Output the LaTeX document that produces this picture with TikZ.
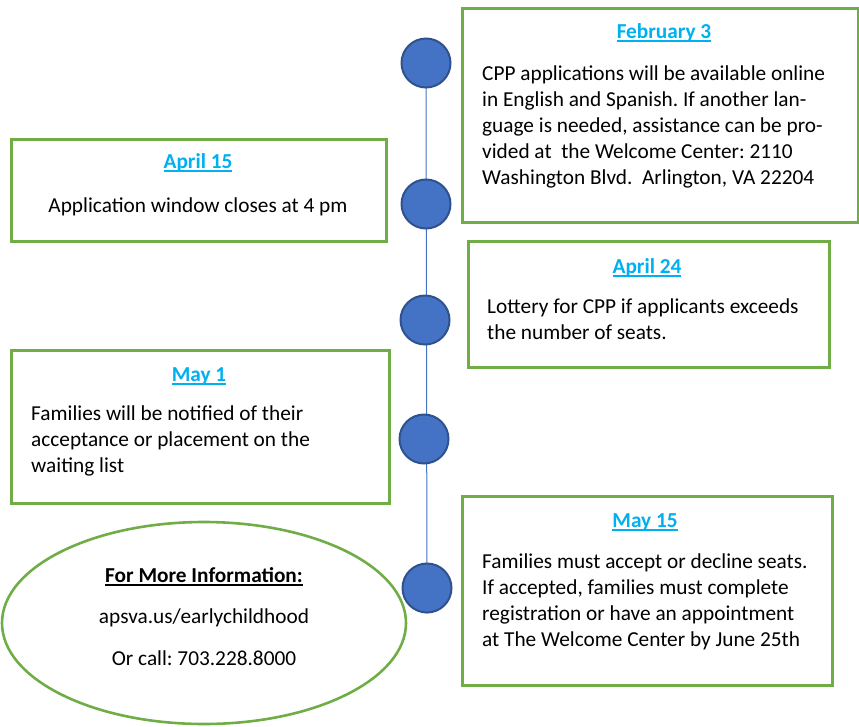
\documentclass[tikz,border=0pt]{standalone}
\usepackage{fontspec}
\setmainfont{Carlito}
\usetikzlibrary{shapes.geometric,backgrounds}
\definecolor{boxgreen}{HTML}{70AD47}
\definecolor{titleblue}{HTML}{00B0F0}
\definecolor{dotfill}{HTML}{4472C4}
\definecolor{dotedge}{HTML}{2F528F}
\tikzset{
  infobox/.style={draw=boxgreen, line width=2.6pt, fill=white},
  dot/.style={circle, draw=dotedge, line width=2pt, fill=dotfill, minimum size=49pt, inner sep=0pt},
  title/.style={font=\fontsize{21.3}{26}\selectfont\bfseries\frenchspacing, text=titleblue, inner sep=0pt, anchor=base},
  body/.style={font=\fontsize{21.3}{26}\selectfont\frenchspacing, align=left, inner sep=0pt, anchor=base west},
  bodyc/.style={font=\fontsize{21.3}{26}\selectfont\frenchspacing, align=center, inner sep=0pt, anchor=base},
  spine/.style={draw=dotfill, line width=1pt}
}
\newcommand{\ttl}[1]{\setbox0\hbox{#1}\rlap{\copy0}\raisebox{-4pt}{\rule{\wd0}{1.7pt}}}
\begin{document}
\begin{tikzpicture}[x=1pt,y=-1pt]
\useasboundingbox (0,0) rectangle (859,726);
% boxes
\node[infobox, minimum width=396pt, minimum height=214pt, anchor=north west] (feb) at (461,7) {};
\node[infobox, minimum width=375pt, minimum height=102pt, anchor=north west] (apr15) at (10,138) {};
\node[infobox, minimum width=361pt, minimum height=126pt, anchor=north west] (apr24) at (467,240) {};
\node[infobox, minimum width=378pt, minimum height=153pt, anchor=north west] (may1) at (10,349) {};
\node[infobox, minimum width=370pt, minimum height=189pt, anchor=north west] (may15) at (461,495) {};
\node[ellipse, draw=boxgreen, line width=2.6pt, minimum width=404pt, minimum height=202pt] (info) at (204,623) {};
% dots
\node[dot] (c1) at (426,63) {};
\node[dot] (c2) at (426,204) {};
\node[dot] (c3) at (425,320) {};
\node[dot] (c4) at (424,439) {};
\node[dot] (c5) at (427,588) {};
\begin{scope}[on background layer]
\draw[spine] (c1.center) -- (c5.south);
\end{scope}
% texts (multi-line nodes: base anchor = last line's baseline)
\node[title] (t1) at (664,38) {\ttl{February 3}};
\node[body] (b1) at (482,184) {CPP applications will be available online\\in English and Spanish. If another lan-\\guage is needed, assistance can be pro-\\vided at\ \ the Welcome Center: 2110\\Washington Blvd.\ \ Arlington, VA 22204};
\node[title] (t2) at (198,168) {\ttl{April 15}};
\node[bodyc] (b2) at (198,212) {Application window closes at 4 pm};
\node[title] (t3) at (647,273) {\ttl{April 24}};
\node[body] (b3) at (487,339) {Lottery for CPP if applicants exceeds\\the number of seats.};
\node[title] (t4) at (199,381) {\ttl{May 1}};
\node[body] (b4) at (31,472) {Families will be notified of their\\acceptance or placement on the\\waiting list};
\node[title] (t5) at (645,527) {\ttl{May 15}};
\node[body] (b5) at (482,646) {Families must accept or decline seats.\\If accepted, families must complete\\registration or have an appointment\\at The Welcome Center by June 25th};
\node[title, text=black] (t6) at (204,582) {\ttl{For More Information:}};
\node[bodyc] (b6) at (204,623) {apsva.us/earlychildhood};
\node[bodyc] (b7) at (204,665) {Or call: 703.228.8000};
\end{tikzpicture}
\end{document}
